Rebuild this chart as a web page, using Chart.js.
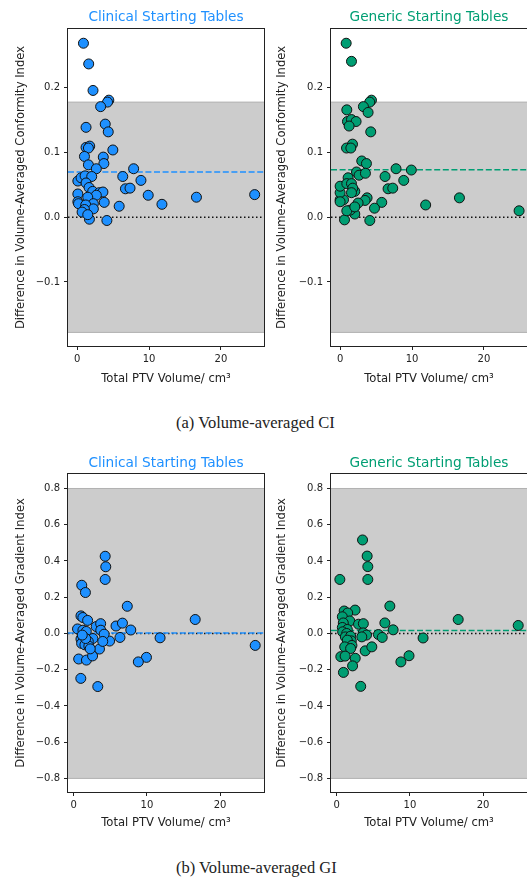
<!DOCTYPE html>
<html><head><meta charset="utf-8">
<script src="https://cdn.jsdelivr.net/npm/chart.js@4.4.1/dist/chart.umd.min.js"></script>
<style>
html,body{margin:0;padding:0;background:#fff;width:527px;height:879px;overflow:hidden;position:relative}
canvas{position:absolute}
.cap{position:absolute;font-family:"Liberation Serif","Times New Roman",serif;font-size:16.5px;color:#222;white-space:nowrap;line-height:1}
</style></head><body>
<canvas id="c1" width="270" height="396" style="left:0;top:0"></canvas>
<canvas id="c2" width="270" height="396" style="left:263px;top:0"></canvas>
<canvas id="c3" width="270" height="398" style="left:0;top:444px"></canvas>
<canvas id="c4" width="270" height="398" style="left:263px;top:444px"></canvas>
<div class="cap" style="left:176px;top:415px">(a) Volume-averaged CI</div>
<div class="cap" style="left:176px;top:860px">(b) Volume-averaged GI</div>
<script>
// ---- data ----
const panelTitles = ['Clinical Starting Tables', 'Generic Starting Tables'];
const xTicks = [0, 10, 20];
const ciYTicks = [-0.1, 0.0, 0.1, 0.2];
const giYTicks = [-0.8, -0.6, -0.4, -0.2, 0.0, 0.2, 0.4, 0.6, 0.8];
const ciLimits = [-0.178, 0.178];
const giLimits = [-0.8, 0.8];
const ciMeans = [0.070, 0.0735];
const giMeans = [0.003, 0.0166];

const ciClinicalX = [0.88,1.61,2.21,4.41,4.23,3.27,1.24,3.91,4.33,1.24,1.75,1.57,4.97,1.02,3.64,3.72,1.57,2.67,7.86,6.35,8.88,6.72,7.36,9.89,11.8,5.85,4.14,1.71,0.10,0.55,1.11,2.03,1.24,1.66,2.17,3.09,3.59,2.67,0.10,1.48,0.10,0.19,2.26,3.77,1.20,2.26,1.02,0.69,1.48,16.6,24.7];
const ciClinicalY = [0.269,0.237,0.196,0.181,0.178,0.171,0.139,0.144,0.132,0.108,0.110,0.107,0.104,0.094,0.093,0.083,0.081,0.075,0.075,0.063,0.057,0.044,0.045,0.034,0.020,0.017,-0.005,-0.003,0.056,0.061,0.064,0.063,0.053,0.046,0.040,0.038,0.039,0.034,0.036,0.031,0.024,0.021,0.021,0.023,0.019,0.013,0.012,0.008,0.004,0.031,0.035];

const ciGenericX = [0.84,1.58,4.36,4.12,3.24,3.89,0.93,1.02,1.58,2.22,1.25,4.26,0.89,1.72,1.49,3.01,3.66,2.28,2.64,3.52,7.78,9.91,6.25,8.85,6.67,7.32,11.9,5.79,4.78,3.75,3.47,4.13,0.61,2.04,1.39,0.93,2.50,2.04,0.0,0.47,0.0,0.0,1.11,0.93,1.58,2.04,1.76,1.58,0.0,16.6,24.9];
const ciGenericY = [0.269,0.241,0.181,0.178,0.171,0.162,0.166,0.148,0.151,0.148,0.141,0.132,0.107,0.113,0.107,0.087,0.083,0.070,0.065,0.068,0.075,0.073,0.063,0.057,0.044,0.045,0.019,0.023,0.014,0.030,0.026,-0.005,-0.004,0.005,0.011,0.010,0.022,0.016,0.027,0.027,0.038,0.048,0.061,0.052,0.052,0.040,0.045,0.038,0.024,0.030,0.010];

const giClinicalX = [4.30,4.38,4.30,1.10,1.60,7.32,16.6,0.99,1.25,1.90,0.52,3.07,3.68,5.78,6.66,7.80,11.8,24.8,9.94,8.83,3.29,0.97,0.68,1.74,2.58,3.52,4.90,6.32,1.26,1.72,3.70,4.16,2.62,0.99,1.35,1.99,3.97,1.08,1.53,2.07,2.26,1.63,1.17];
const giClinicalY = [0.426,0.368,0.298,0.266,0.226,0.150,0.077,0.097,0.088,0.072,0.025,0.038,0.054,0.041,0.057,0.019,-0.024,-0.066,-0.132,-0.157,-0.293,-0.248,-0.141,-0.147,-0.124,-0.086,-0.042,-0.022,0.018,0.011,0.018,-0.004,-0.028,-0.031,-0.037,-0.044,-0.044,-0.055,-0.063,-0.070,-0.085,-0.028,-0.009];

const giGenericX = [3.53,4.16,4.25,4.25,0.43,7.26,16.6,24.8,2.51,1.02,1.50,0.77,1.79,0.90,2.98,3.64,6.58,7.71,11.8,0.77,1.45,0.81,1.36,3.62,4.07,5.70,6.22,1.18,1.90,3.43,1.99,1.45,2.08,1.09,1.90,3.89,4.80,0.56,1.15,2.53,2.17,0.92,8.77,9.88,3.28];
const giGenericY = [0.516,0.427,0.369,0.298,0.298,0.151,0.077,0.044,0.129,0.124,0.113,0.092,0.069,0.058,0.051,0.054,0.058,0.020,-0.025,0.033,0.022,0.009,0.000,0.003,-0.009,-0.006,-0.022,-0.019,-0.015,-0.019,-0.041,-0.037,-0.066,-0.074,-0.083,-0.096,-0.074,-0.128,-0.125,-0.137,-0.179,-0.215,-0.157,-0.123,-0.292];

// axis ranges
const ciXRange = [-1.27, 26.0];
const giXRange = [-0.78, 26.0];
const ciYRange = [-0.199, 0.291];
const giYRange = [-0.875, 0.88];

// ---- styles ----
const colors = ['#1E90FF', '#009E73'];
const FONT = "'DejaVu Sans', sans-serif";
const INK = '#222';

const framePlugin = {
  id: 'frame',
  afterDraw(chart) {
    const a = chart.chartArea, ctx = chart.ctx;
    ctx.save();
    ctx.strokeStyle = INK; ctx.lineWidth = 1;
    ctx.strokeRect(Math.round(a.left) - 0.5, Math.round(a.top) - 0.5,
                   Math.round(a.right) - Math.round(a.left) + 1, Math.round(a.bottom) - Math.round(a.top) + 1);
    ctx.restore();
  }
};

// panel title centred over the plotting area
const panelTitlePlugin = {
  id: 'ptitle',
  afterDraw(chart, args, opts) {
    const a = chart.chartArea, ctx = chart.ctx;
    ctx.save();
    ctx.font = '13.7px ' + FONT;
    ctx.fillStyle = opts.color;
    ctx.textAlign = 'center';
    ctx.textBaseline = 'middle';
    ctx.fillText(opts.text, (a.left + a.right) / 2, opts.y);
    ctx.restore();
  }
};

function fmtTick(v) {
  const s = Number(v).toFixed(1);
  return s.replace('-', '\u2212');
}

function hline(xr, y, color, dash, width, order) {
  return { type: 'line', data: [{x: xr[0], y: y}, {x: xr[1], y: y}], borderColor: color,
           borderDash: dash, borderWidth: width, pointRadius: 0, fill: false, order: order };
}

function makePanel(id, p) {
  const pts = p.xs.map((x, i) => ({x: x, y: p.ys[i]}));
  new Chart(document.getElementById(id), {
    type: 'scatter',
    data: { datasets: [
      { type: 'line', data: [{x: p.xr[0], y: p.lim[1]}, {x: p.xr[1], y: p.lim[1]}],
        borderColor: '#b3b3b3', borderWidth: 1, backgroundColor: '#cccccc',
        fill: {value: p.lim[0]}, pointRadius: 0, order: 10 },
      hline(p.xr, p.lim[0], '#b3b3b3', [], 1, 9),
      hline(p.xr, 0, '#111', [1.5, 2.5], 1.5, 6),
      hline(p.xr, p.mean, p.color, [6, 2.6], 1.5, 5),
      { data: pts, pointRadius: 5, pointHoverRadius: 5, pointBackgroundColor: p.color,
        pointBorderColor: '#111', pointBorderWidth: 1, showLine: false, order: 1 }
    ]},
    options: {
      responsive: false, animation: false, devicePixelRatio: 1,
      layout: { padding: {left: 0, right: 4, top: p.top, bottom: 0} },
      plugins: {
        legend: {display: false}, tooltip: {enabled: false}, title: {display: false},
        ptitle: {text: p.title, color: p.color, y: p.ty}
      },
      scales: {
        x: { type: 'linear', min: p.xr[0], max: p.xr[1],
             afterBuildTicks: s => { s.ticks = xTicks.map(v => ({value: v})); },
             afterFit: s => { s.height = 50; },
             grid: {display: true, drawOnChartArea: false, drawTicks: true, tickLength: 4, tickColor: INK, tickWidth: 1},
             border: {display: false},
             ticks: {font: {family: FONT, size: 10}, color: INK, padding: 3, maxRotation: 0, callback: v => String(v)},
             title: {display: true, text: 'Total PTV Volume/ cm\u00B3', color: INK,
                     font: {family: FONT, size: 11.6}, padding: {top: 0, bottom: p.xtp}} },
        y: { type: 'linear', min: p.yr[0], max: p.yr[1],
             afterBuildTicks: s => { s.ticks = p.yt.map(v => ({value: v})); },
             afterFit: s => { s.width = 68; },
             grid: {display: true, drawOnChartArea: false, drawTicks: true, tickLength: 4, tickColor: INK, tickWidth: 1},
             border: {display: false},
             ticks: {font: {family: FONT, size: 10}, color: INK, padding: 4, callback: v => fmtTick(v)},
             title: {display: true, text: p.ylabel, color: INK,
                     font: {family: FONT, size: 11.6}, padding: {top: p.ytp, bottom: 0}} }
      }
    },
    plugins: [framePlugin, panelTitlePlugin]
  });
}

const ciLabel = 'Difference in Volume-Averaged Conformity Index';
const giLabel = 'Difference in Volume-Averaged Gradient Index';

makePanel('c1', {title: panelTitles[0], color: colors[0], xs: ciClinicalX, ys: ciClinicalY, xr: ciXRange, yr: ciYRange,
  yt: ciYTicks, lim: ciLimits, mean: ciMeans[0], ylabel: ciLabel, top: 29, ty: 17.3, xtp: 10, ytp: 14});
makePanel('c2', {title: panelTitles[1], color: colors[1], xs: ciGenericX, ys: ciGenericY, xr: ciXRange, yr: ciYRange,
  yt: ciYTicks, lim: ciLimits, mean: ciMeans[1], ylabel: ciLabel, top: 29, ty: 17.3, xtp: 10, ytp: 12.5});
makePanel('c3', {title: panelTitles[0], color: colors[0], xs: giClinicalX, ys: giClinicalY, xr: giXRange, yr: giYRange,
  yt: giYTicks, lim: giLimits, mean: giMeans[0], ylabel: giLabel, top: 30, ty: 19.3, xtp: 11.7, ytp: 14});
makePanel('c4', {title: panelTitles[1], color: colors[1], xs: giGenericX, ys: giGenericY, xr: giXRange, yr: giYRange,
  yt: giYTicks, lim: giLimits, mean: giMeans[1], ylabel: giLabel, top: 30, ty: 19.3, xtp: 11.7, ytp: 12.5});
</script>
</body></html>
